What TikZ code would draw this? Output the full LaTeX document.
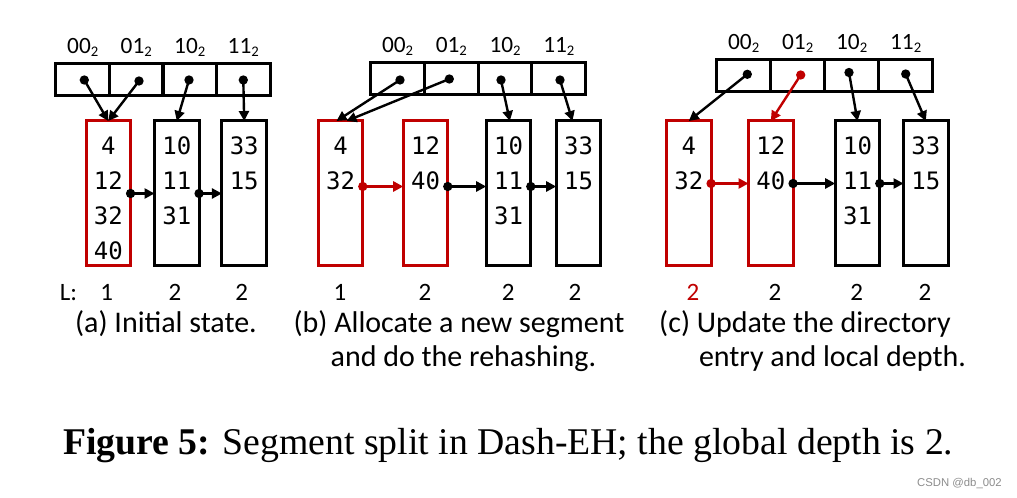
\documentclass[tikz,border=0pt]{standalone}
\usepackage{fontspec}
\setmainfont{Carlito}
\newfontfamily\monof{DejaVu Sans Mono}
\newfontfamily\timesf{Liberation Serif}
\newfontfamily\arialf{Liberation Sans}
\usetikzlibrary{arrows.meta,calc}
\definecolor{dred}{RGB}{192,0,0}
\newcommand\bsub[1]{#1\raisebox{-2.2pt}{\fontsize{11}{13}\selectfont 2}}
\tikzset{
  seg/.style={draw, line width=2.25pt, minimum width=33.4pt, minimum height=108.75pt, inner sep=0pt, outer sep=0pt},
  segr/.style={seg, draw=dred},
  cell/.style={draw, line width=2.25pt, minimum width=40.3pt, minimum height=24.2pt, inner sep=0pt, outer sep=0pt},
  dot/.style={circle, fill, inner sep=0pt, minimum size=7pt},
  arr/.style={line width=1.8pt, -{Triangle[length=7.5pt,width=7.5pt]}},
  val/.style={font=\monof\fontsize{18}{22}\selectfont, anchor=base, inner sep=0pt},
  lab/.style={font=\fontsize{17.5}{20}\selectfont, anchor=base, inner sep=0pt},
  dep/.style={font=\fontsize{18.75}{22}\selectfont, anchor=base, inner sep=0pt},
  capt/.style={font=\fontsize{22.5}{27}\selectfont, anchor=base, inner sep=0pt},
}
\begin{document}
\begin{tikzpicture}[x=0.75pt,y=-0.75pt]
\useasboundingbox (0,0) rectangle (1017,498);

% ---------------- panel (a) ----------------
\foreach \x/\n/\t in {82.75/0/00,136.25/1/01,189.75/2/10,243.25/3/11}{
  \node[cell] (ac\n) at (\x,79.7) {};
  \node[lab] (al\n) at (\x,53.3) {\bsub{\t}};
}
\node[segr] (a1) at (108.3,193.5) {};
\node[seg]  (a2) at (176.8,193.5) {};
\node[seg]  (a3) at (244.2,193.5) {};
\foreach \v [count=\i] in {4,12,32,40}
  \path (a1.north) ++(0,{34+35*(\i-1)}) node[val] (a1v\i) {\v};
\foreach \v [count=\i] in {10,11,31}
  \path (a2.north) ++(0,{34+35*(\i-1)}) node[val] (a2v\i) {\v};
\foreach \v [count=\i] in {33,15}
  \path (a3.north) ++(0,{34+35*(\i-1)}) node[val] (a3v\i) {\v};
\node[dot] (ad0) at (84.3,80) {};
\node[dot] (ad1) at (139,81) {};
\node[dot] (ad2) at (189,80) {};
\node[dot] (ad3) at (243.3,80) {};
\draw[arr] (ad0.center) -- (a1.north);
\draw[arr] (ad1.center) -- (a1.north);
\draw[arr] (ad2.center) -- (a2.north);
\draw[arr] (ad3.center) -- (a3.north);
\node[dot] (ae1) at (a1.east) {};
\node[dot] (ae2) at (a2.east) {};
\draw[arr] (ae1.center) -- (a2.west);
\draw[arr] (ae2.center) -- (a3.west);

% ---------------- panel (b) ----------------
\foreach \x/\n/\t in {397.6/0/00,451.3/1/01,505.1/2/10,558.8/3/11}{
  \node[cell] (bc\n) at (\x,78.8) {};
  \node[lab] (bl\n) at (\x,52.8) {\bsub{\t}};
}
\node[segr] (b1) at (340.5,193.5) {};
\node[segr] (b2) at (425.5,193.5) {};
\node[seg]  (b3) at (508.5,193.5) {};
\node[seg]  (b4) at (578.5,193.5) {};
\foreach \v [count=\i] in {4,32}
  \path (b1.north) ++(0,{34+35*(\i-1)}) node[val] (b1v\i) {\v};
\foreach \v [count=\i] in {12,40}
  \path (b2.north) ++(0,{34+35*(\i-1)}) node[val] (b2v\i) {\v};
\foreach \v [count=\i] in {10,11,31}
  \path (b3.north) ++(0,{34+35*(\i-1)}) node[val] (b3v\i) {\v};
\foreach \v [count=\i] in {33,15}
  \path (b4.north) ++(0,{34+35*(\i-1)}) node[val] (b4v\i) {\v};
\node[dot] (bd0) at (400,80) {};
\node[dot] (bd1) at (449.3,79) {};
\node[dot] (bd2) at (501,80) {};
\node[dot] (bd3) at (560,80) {};
\draw[arr] (bd0.center) -- ([xshift=-3pt]b1.north);
\draw[arr] (bd1.center) -- ([xshift=4.5pt]b1.north);
\draw[arr] (bd2.center) -- ([xshift=1pt]b3.north);
\draw[arr] (bd3.center) -- ([xshift=-4.5pt]b4.north);
\node[dot, dred] (be1) at ($(b1.east)+(0,-7)$) {};
\node[dot] (be2) at ($(b2.east)+(0,-7)$) {};
\node[dot] (be3) at ($(b3.east)+(0,-7)$) {};
\draw[arr, dred] (be1.center) -- (be1.center -| b2.west);
\draw[arr] (be2.center) -- (be2.center -| b3.west);
\draw[arr] (be3.center) -- (be3.center -| b4.west);

% ---------------- panel (c) ----------------
\foreach \x/\n/\t in {743.7/0/00,797.7/1/01,851.7/2/10,905.7/3/11}{
  \node[cell] (cc\n) at (\x,75.2) {};
  \node[lab] (cl\n) at (\x,49.3) {\bsub{\t}};
}
\node[segr] (c1) at (688.8,193.5) {};
\node[segr] (c2) at (770.8,193.5) {};
\node[seg]  (c3) at (857.5,193.5) {};
\node[seg]  (c4) at (925.8,193.5) {};
\foreach \v [count=\i] in {4,32}
  \path (c1.north) ++(0,{34+35*(\i-1)}) node[val] (c1v\i) {\v};
\foreach \v [count=\i] in {12,40}
  \path (c2.north) ++(0,{34+35*(\i-1)}) node[val] (c2v\i) {\v};
\foreach \v [count=\i] in {10,11,31}
  \path (c3.north) ++(0,{34+35*(\i-1)}) node[val] (c3v\i) {\v};
\foreach \v [count=\i] in {33,15}
  \path (c4.north) ++(0,{34+35*(\i-1)}) node[val] (c4v\i) {\v};
\node[dot] (cd0) at (747.3,74.3) {};
\node[dot, dred] (cd1) at (800.7,75) {};
\node[dot] (cd2) at (849,72.5) {};
\node[dot] (cd3) at (905.7,74) {};
\draw[arr] (cd0.center) -- (c1.north);
\draw[arr, dred] (cd1.center) -- (c2.north);
\draw[arr] (cd2.center) -- (c3.north);
\draw[arr] (cd3.center) -- (c4.north);
\node[dot, dred] (ce1) at ($(c1.east)+(0,-10)$) {};
\node[dot] (ce2) at ($(c2.east)+(0,-10)$) {};
\node[dot] (ce3) at ($(c3.east)+(0,-10)$) {};
\draw[arr, dred] (ce1.center) -- (ce1.center -| c2.west);
\draw[arr] (ce2.center) -- (ce2.center -| c3.west);
\draw[arr] (ce3.center) -- (ce3.center -| c4.west);

% ---------------- local depths ----------------
\node[dep, anchor=base west] (Ll) at (59.5,300.7) {L:};
\node[dep] (La1) at (106.7,300.7) {1};
\node[dep] (La2) at (175,300.7) {2};
\node[dep] (La3) at (241.7,300.7) {2};
\node[dep] (Lb1) at (340,300.7) {1};
\node[dep] (Lb2) at (425,300.7) {2};
\node[dep] (Lb3) at (508.3,300.7) {2};
\node[dep] (Lb4) at (575,300.7) {2};
\node[dep, text=dred] (Lc1) at (693,300.7) {2};
\node[dep] (Lc2) at (775,300.7) {2};
\node[dep] (Lc3) at (856.7,300.7) {2};
\node[dep] (Lc4) at (925,300.7) {2};

% ---------------- sub-captions ----------------
\node[capt] (capa) at (166,332.5) {(a) Initial state.};
\node[capt] (capb1) at (459,332.5) {(b) Allocate a new segment};
\node[capt] (capb2) at (463.4,366.5) {and do the rehashing.};
\node[capt] (capc1) at (805,332.5) {(c) Update the directory};
\node[capt] (capc2) at (832.5,366.5) {entry and local depth.};

% ---------------- figure caption ----------------
\node[anchor=base, inner sep=0pt, font=\timesf\fontsize{28.3}{34}\selectfont] (cap) at (508.2,455)
  {{\bfseries Figure 5:} Segment split in Dash-EH; the global depth is 2.};
\node[anchor=base east, inner sep=0pt, text=black!45, font=\arialf\fontsize{8.5}{10}\selectfont] (wm) at (1002,486.7) {CSDN @db\_002};
\end{tikzpicture}
\end{document}
